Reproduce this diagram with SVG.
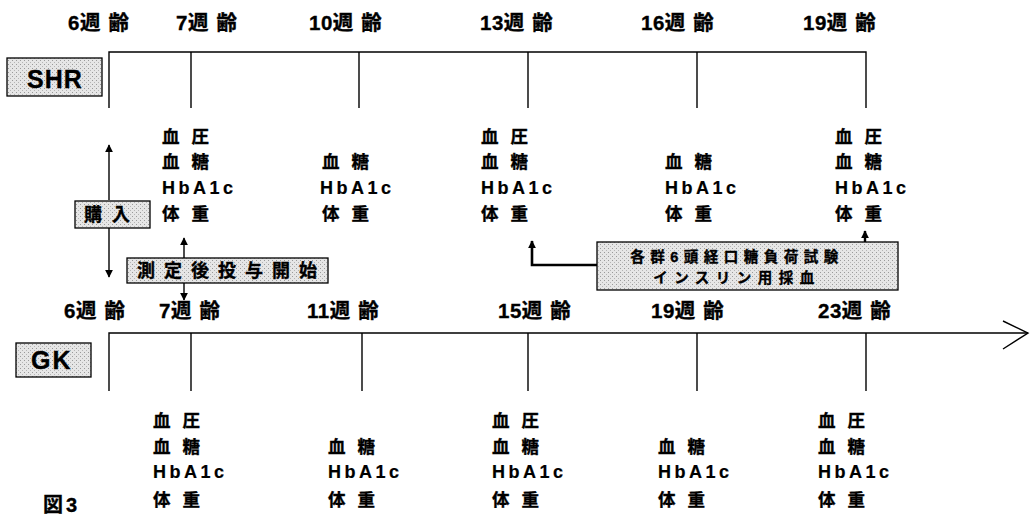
<svg xmlns="http://www.w3.org/2000/svg" width="1031" height="515" viewBox="0 0 1031 515">
<style>
text{font-family:"Liberation Sans","Noto Sans CJK JP",sans-serif;font-weight:bold;fill:#000;stroke:#000;stroke-width:0.35}
.age{font-size:20.5px;letter-spacing:0.5px}
.w{letter-spacing:8px}
.item{font-size:17.5px;letter-spacing:12px}
.hb{font-size:18px;letter-spacing:3.5px;stroke-width:0.2}
.line{stroke:#000;stroke-width:1.4;fill:none}
.box{fill:url(#dots);stroke:#000;stroke-width:1.3}
.conn{stroke:#000;stroke-width:1.4;fill:none}
</style>
<defs>
<pattern id="dots" width="4" height="4" patternUnits="userSpaceOnUse">
<rect width="4" height="4" fill="#e6e6e6"/>
<rect x="0" y="0" width="1" height="1" fill="#9a9a9a"/>
<rect x="2" y="2" width="1" height="1" fill="#b5b5b5"/>
</pattern>
<marker id="ah" viewBox="0 0 10 10" refX="9" refY="5" markerWidth="8" markerHeight="8" markerUnits="userSpaceOnUse" orient="auto">
<path d="M0,0 L10,5 L0,10 Z" fill="#000"/>
</marker>
</defs>

<g id="shr-timeline">
<rect class="box" x="7" y="58" width="95" height="38"/>
<text x="27" y="88" style="font-size:25px;letter-spacing:1px">SHR</text>
<path class="line" d="M109,108 V52 H866 V108 M191,52 V108 M359,52 V108 M528,52 V108 M697,52 V108"/>
<text class="age" x="68" y="30">6<tspan class="w">週</tspan>齢</text>
<text class="age" x="176" y="30">7<tspan class="w">週</tspan>齢</text>
<text class="age" x="309" y="30">10<tspan class="w">週</tspan>齢</text>
<text class="age" x="480" y="30">13<tspan class="w">週</tspan>齢</text>
<text class="age" x="641" y="30">16<tspan class="w">週</tspan>齢</text>
<text class="age" x="803" y="30">19<tspan class="w">週</tspan>齢</text>
</g>

<g id="shr-w7">
<text class="item" x="162" y="143">血圧</text>
<text class="item" x="162" y="168">血糖</text>
<text class="hb" x="162" y="194">HbA1c</text>
<text class="item" x="162" y="220">体重</text>
</g>
<g id="shr-w10">
<text class="item" x="322" y="168">血糖</text>
<text class="hb" x="320" y="194">HbA1c</text>
<text class="item" x="322" y="220">体重</text>
</g>
<g id="shr-w13">
<text class="item" x="481" y="143">血圧</text>
<text class="item" x="481" y="168">血糖</text>
<text class="hb" x="481" y="194">HbA1c</text>
<text class="item" x="481" y="220">体重</text>
</g>
<g id="shr-w16">
<text class="item" x="665" y="168">血糖</text>
<text class="hb" x="665" y="194">HbA1c</text>
<text class="item" x="665" y="220">体重</text>
</g>
<g id="shr-w19">
<text class="item" x="835" y="143">血圧</text>
<text class="item" x="835" y="168">血糖</text>
<text class="hb" x="835" y="194">HbA1c</text>
<text class="item" x="835" y="220">体重</text>
</g>

<g id="connectors">
<path class="conn" d="M109,200 V145" marker-end="url(#ah)"/>
<path class="conn" d="M109,228 V277" marker-end="url(#ah)"/>
<path class="conn" d="M184,258 V238" marker-end="url(#ah)"/>
<path class="conn" d="M184,283 V300" marker-end="url(#ah)"/>
<path class="conn" style="stroke-width:2.6" d="M597,265 H532 V241" marker-end="url(#ah)"/>
<path class="conn" style="stroke-width:2.4" d="M865,242 V231" marker-end="url(#ah)"/>
</g>

<g id="purchase">
<rect class="box" x="75" y="201" width="75" height="27"/>
<text x="84" y="221" style="font-size:18px;letter-spacing:10px">購入</text>
</g>

<g id="start-dosing">
<rect class="box" x="127" y="258" width="201" height="25"/>
<text x="137" y="277" style="font-size:18px;letter-spacing:9px">測定後投与開始</text>
</g>

<g id="ogtt">
<rect class="box" x="597" y="242" width="301" height="48"/>
<text x="737" y="262" text-anchor="middle" style="font-size:14.5px;letter-spacing:5.5px">各群6頭経口糖負荷試験</text>
<text x="737" y="283" text-anchor="middle" style="font-size:14.5px;letter-spacing:6.5px">インスリン用採血</text>
</g>

<g id="gk-timeline">
<rect class="box" x="16" y="343" width="75" height="34"/>
<text x="31" y="369" style="font-size:25px;letter-spacing:2px">GK</text>
<path class="line" d="M109,391 V333 H1028 M191,333 V391 M362,333 V391 M528,333 V391 M697,333 V391 M866,333 V391"/>
<path class="line" d="M1003,321 L1028,333 L1003,349"/>
<text class="age" x="64" y="318">6<tspan class="w">週</tspan>齢</text>
<text class="age" x="159" y="318">7<tspan class="w">週</tspan>齢</text>
<text class="age" x="307" y="318">11<tspan class="w">週</tspan>齢</text>
<text class="age" x="498" y="318">15<tspan class="w">週</tspan>齢</text>
<text class="age" x="651" y="318">19<tspan class="w">週</tspan>齢</text>
<text class="age" x="818" y="318">23<tspan class="w">週</tspan>齢</text>
</g>

<g id="gk-w7">
<text class="item" x="153" y="427">血圧</text>
<text class="item" x="153" y="453">血糖</text>
<text class="hb" x="153" y="478">HbA1c</text>
<text class="item" x="153" y="506">体重</text>
</g>
<g id="gk-w11">
<text class="item" x="328" y="453">血糖</text>
<text class="hb" x="328" y="478">HbA1c</text>
<text class="item" x="328" y="506">体重</text>
</g>
<g id="gk-w15">
<text class="item" x="492" y="427">血圧</text>
<text class="item" x="492" y="453">血糖</text>
<text class="hb" x="492" y="478">HbA1c</text>
<text class="item" x="492" y="506">体重</text>
</g>
<g id="gk-w19">
<text class="item" x="658" y="453">血糖</text>
<text class="hb" x="658" y="478">HbA1c</text>
<text class="item" x="658" y="506">体重</text>
</g>
<g id="gk-w23">
<text class="item" x="818" y="427">血圧</text>
<text class="item" x="818" y="453">血糖</text>
<text class="hb" x="818" y="478">HbA1c</text>
<text class="item" x="818" y="506">体重</text>
</g>

<g id="caption">
<text x="43" y="512" style="font-size:20px;letter-spacing:3px">図3</text>
</g>
</svg>
